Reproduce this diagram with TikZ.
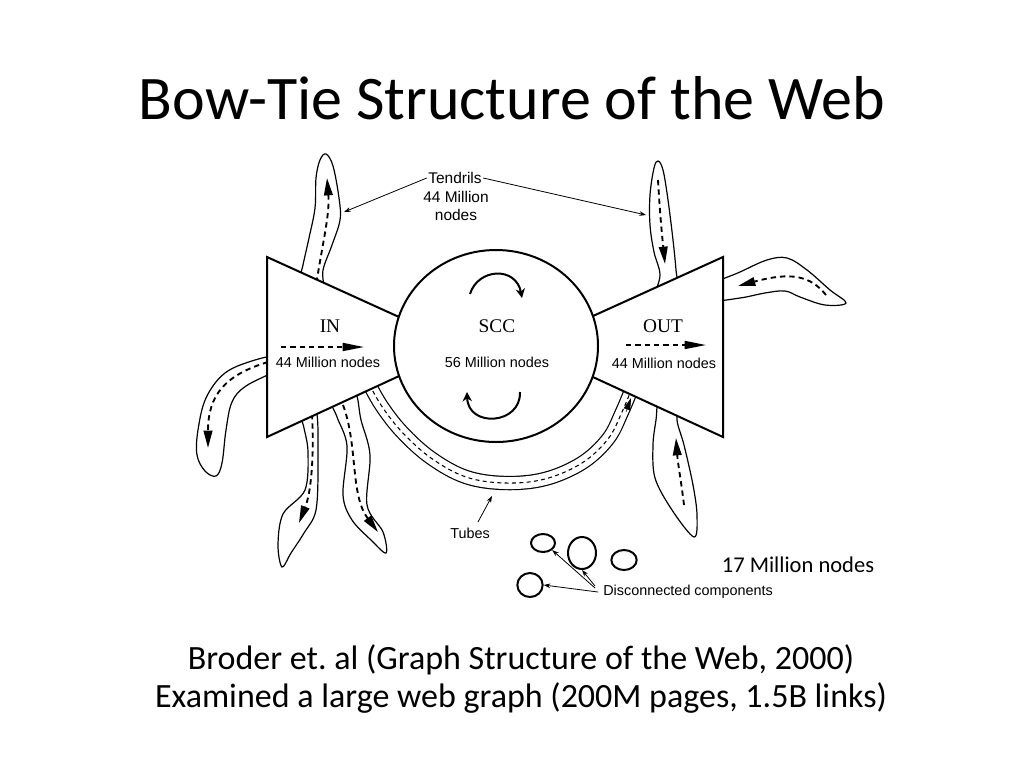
\documentclass[tikz,border=0pt]{standalone}
\usepackage{fontspec}
\setmainfont{Carlito}
\newfontfamily\arialf{Liberation Sans}
\newfontfamily\seriff{Liberation Serif}
\usetikzlibrary{arrows.meta,shapes.geometric}
\frenchspacing
\tikzset{
  lbl/.style={font=\arialf\fontsize{10.8}{12}\selectfont, inner sep=0pt},
  sclbl/.style={font=\seriff\fontsize{14.5}{16}\selectfont, inner sep=0pt},
  box/.style={draw, line width=1.5pt, fill=white, line join=miter},
  tendril/.style={draw, line width=0.9pt, fill=white},
  flow/.style={dashed, line width=1.4pt, dash pattern=on 4pt off 3pt, -{Triangle[length=13pt,width=6.5pt]}},
  inflow/.style={dashed, line width=1.2pt, dash pattern=on 4pt off 3pt, -{Triangle[length=16pt,width=6pt]}},
  pointer/.style={line width=0.6pt, -{Stealth[length=5pt,width=3.5pt]}},
  cyc/.style={line width=1.5pt, -{Stealth[length=7pt,width=7pt]}},
  blob/.style={draw, line width=1.5pt}
}
\begin{document}
\begin{tikzpicture}[x=0.75pt,y=-0.75pt]
\useasboundingbox (0,0) rectangle (1024,768);

% title
\node[font=\fontsize{46.5}{50}\selectfont] (title) at (512,98) {Bow-Tie Structure of the Web};

% ---------- tendrils ----------
% top-left (out of IN)
\draw[tendril] plot[smooth cycle, tension=0.6] coordinates {(298,292) (303,265) (309,238) (315,208) (316,178) (320,160) (326,154) (333,166) (339,198) (340,220) (332,245) (323,270) (322,292)};
\draw[flow] (315,292) .. controls (322,245) and (330,215) .. (327,178);
% top-right (into OUT)
\draw[tendril] plot[smooth cycle, tension=0.6] coordinates {(655,300) (660,275) (654,252) (650,225) (650,195) (654,168) (658,161) (663,170) (668,200) (673,240) (676,270) (678,300)};
\draw[flow] (658,180) .. controls (660,215) and (662,235) .. (665,264);
% right of OUT
\draw[tendril] plot[smooth cycle, tension=0.6] coordinates {(712,285) (740,272) (767,260) (787,258) (807,270) (830,290) (846,303) (825,305) (800,297) (785,291) (765,293) (740,298) (712,300)};
\draw[flow] (826,295) .. controls (810,275) and (790,272) .. (738,286);
% left of IN
\draw[tendril] plot[smooth cycle, tension=0.6] coordinates {(280,356) (255,360) (225,373) (206,398) (198,430) (197,455) (205,471) (216,476) (222,463) (226,430) (232,402) (246,386) (280,368)};
\draw[flow] (268,362) .. controls (225,375) and (208,395) .. (208,448);
% below IN, A
\draw[tendril] plot[smooth cycle, tension=0.55] coordinates {(300,410) (304,428) (308,452) (305,490) (283,514) (278,545) (282,567) (291,553) (304,533) (316,510) (318,460) (316,410)};
\draw[flow] (312,414) .. controls (314,450) and (312,490) .. (299,523);
% below IN, B
\draw[tendril] plot[smooth cycle, tension=0.55] coordinates {(331,398) (337,417) (347,446) (343,495) (352,520) (371,540) (386,553) (383,532) (367,505) (370,455) (361,420) (354,390)};
\draw[flow] (343,405) .. controls (358,445) and (350,495) .. (378,532);
% below OUT, C
\draw[tendril] plot[smooth cycle, tension=0.55] coordinates {(660,395) (656,420) (653,445) (655,478) (672,510) (694,537) (697,515) (693,485) (684,445) (677,420) (679,398)};
\draw[flow] (684,505) .. controls (681,480) and (678,465) .. (676,438);

% ---------- tube ----------
\draw[line width=0.9pt, double=white, double distance=9pt]
  plot[smooth, tension=0.6] coordinates {(366,378) (381,405) (402,432) (431,458) (466,477) (505,483) (545,479) (582,463) (608,439) (622,412) (634,383)};
\draw[line width=0.8pt, dash pattern=on 3pt off 2.5pt]
  plot[smooth, tension=0.6] coordinates {(366,378) (381,405) (402,432) (431,458) (466,477) (505,483) (545,479) (582,463) (608,439) (622,412) (634,383)};

% ---------- bow tie ----------
\draw[box] (267,257) -- (410,322) -- (410,371) -- (267,437) -- cycle;
\draw[box] (723,257) -- (582,321) -- (582,372) -- (723,437) -- cycle;
\node[draw, ellipse, line width=1.5pt, fill=white, minimum width=153pt, minimum height=144pt, inner sep=0pt] (scc) at (496,346) {};
\coordinate (tubetip) at (631,398);
\draw[-{Triangle[length=9pt,width=5pt]}] (626,412) -- (tubetip);

% IN
\node[sclbl] (inl) at (330,326) {IN};
\coordinate (ina) at (281,347);
\coordinate (inb) at (364,347);
\draw[inflow] (ina) -- (inb);
\node[lbl] (inn) at (328,362) {44 Million nodes};
% SCC
\node[sclbl] (sccl) at (497,326) {SCC};
\node[lbl] (sccn) at (497,362) {56 Million nodes};
\coordinate (c1a) at (470,294);
\coordinate (c1b) at (522,298);
\draw[cyc] (c1a) .. controls (478,268) and (516,266) .. (c1b);
\coordinate (c2a) at (520,392);
\coordinate (c2b) at (467,392);
\draw[cyc] (c2a) .. controls (521,425) and (468,428) .. (c2b);
% OUT
\node[sclbl] (outl) at (663,326) {OUT};
\coordinate (outa) at (626,345);
\coordinate (outb) at (706,345);
\draw[inflow] (outa) -- (outb);
\node[lbl] (outn) at (664,363) {44 Million nodes};

% ---------- labels ----------
\node[lbl, font=\arialf\fontsize{11.6}{13}\selectfont] (tendT) at (455,178) {Tendrils};
\node[lbl, font=\arialf\fontsize{11.6}{13.5}\selectfont, align=center] (tendN) at (456,206) {44 Million\\nodes};
\coordinate (tl) at (344,212);
\coordinate (tr) at (646,215);
\draw[pointer] ([xshift=-1pt]tendT.west) -- (tl);
\draw[pointer] ([xshift=1pt]tendT.east) -- (tr);

\node[lbl] (tubes) at (470,533) {Tubes};
\coordinate (tubept) at (492,496);
\draw[pointer] (478,522) -- (tubept);

% disconnected components
\node[blob, ellipse, minimum width=18pt, minimum height=13.5pt, inner sep=0pt] (d1) at (543,543) {};
\node[blob, ellipse, minimum width=21pt, minimum height=24pt, inner sep=0pt] (d2) at (582,553) {};
\node[blob, ellipse, minimum width=19pt, minimum height=15pt, inner sep=0pt] (d3) at (624,560) {};
\node[blob, ellipse, minimum width=19pt, minimum height=18pt, inner sep=0pt] (d4) at (530,585) {};
\node[lbl, anchor=west] (dc) at (603,592) {Disconnected components};
\draw[pointer] (595,588) -- (d1.south east);
\draw[pointer] (595,586) -- (d2.south);
\draw[pointer] (598,592) -- (d4.east);

\node[font=\fontsize{16.9}{19}\selectfont] (seventeen) at (798,565) {17 Million nodes};

% caption
\node[font=\fontsize{25.5}{28}\selectfont] (cap1) at (521,660) {Broder et. al (Graph Structure of the Web, 2000)};
\node[font=\fontsize{25.5}{28}\selectfont] (cap2) at (521,698) {Examined a large web graph (200M pages, 1.5B links)};
\end{tikzpicture}
\end{document}
